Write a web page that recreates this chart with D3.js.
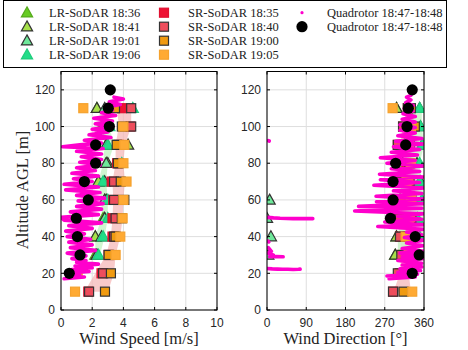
<!DOCTYPE html>
<html><head><meta charset="utf-8">
<script src="https://cdn.jsdelivr.net/npm/d3@7"></script>
<style>body{margin:0;background:#fff}svg{display:block}</style>
</head><body>
<svg id="c" width="468" height="350"></svg>
<script>
// ---------- DATA ----------
const srHeights = [10,20,30,40,50,60,70,80,90,100,110];
const lrHeights = [30,40,50,60,70,80,90,100,110];
const quadMeanHeights = [20,30,40,50,60,70,80,90,100,110,120];

const srLabels = ["SR-SoDAR 18:35","SR-SoDAR 18:40","SR-SoDAR 19:00","SR-SoDAR 19:05"];
const lrLabels = ["LR-SoDAR 18:36","LR-SoDAR 18:41","LR-SoDAR 19:01","LR-SoDAR 19:06"];
const quadLabels = ["Quadrotor 18:47-18:48","Quadrotor 18:47-18:48"];

// wind speed [m/s]
const sr1835Speed = [1.75,2.6,3.05,3.3,3.3,3.35,3.25,3.6,3.7,4.45,3.9];
const sr1840Speed = [1.8,2.7,3.1,3.4,3.5,3.4,3.4,3.7,3.6,4.5,4.5];
const sr1900Speed = [2.82,3.2,3.05,3.5,3.9,4.06,3.83,3.65,3.57,3.9,3.46];
const sr1905Speed = [0.9,1.07,3.5,3.8,3.95,4.0,4.2,4.0,4.06,4.0,1.43];
const lr1836Speed = [2.2,2.2,2.7,2.8,2.4,2.9,2.9,2.6,2.3];
const lr1841Speed = [2.3,2.2,2.8,2.9,2.4,3.0,4.3,2.7,2.3];
const lr1901Speed = [2.3,2.6,2.8,2.8,2.8,2.9,2.9,2.9,2.8];
const lr1906Speed = [2.4,2.7,3.0,3.0,2.7,3.9,3.0,3.1,4.6];
const quadMeanSpeed = [0.53,1.22,1.05,0.98,1.75,1.5,2.22,2.22,3.1,3.03,3.16];
const srBandSpeedLo = [1.5,2.2,2.9,3.2,3.3,3.35,3.3,3.5,3.5,3.7,3.6];
const srBandSpeedHi = [3.0,3.4,3.5,3.8,3.95,4.0,4.1,4.0,4.1,4.5,4.5];
const lrBandSpeedLo = [2.2,2.2,2.6,2.6,2.4,2.7,2.8,2.6,2.4];
const lrBandSpeedHi = [2.5,2.8,3.0,3.0,2.9,3.0,3.4,3.1,3.0];
// quadrotor raw samples [altitude, speed]
const quadSpeed = [[17,0.2],[18,1.5],[18.5,0.4],[19.5,1.2],[20,0.3],[21,1.8],[22,0.7],[23,2.0],[24,0.9],[25,2.4],[26,1.0],[27,1.6],[28,0.7],[29.5,1.6],[31,0.4],[32.5,2.2],[34,0.6],[35.5,2.0],[37,0.5],[38.5,1.9],[40,0.4],[41.5,1.5],[43,0.3],[44.5,2.0],[46,0.5],[47.5,2.6],[49,0.2],[50.5,0.0],[52,2.4],[53.5,0.6],[55,2.6],[56.5,1.0],[58,2.7],[59.5,1.1],[61,2.8],[62.5,1.0],[64,2.5],[65.5,0.3],[67,2.4],[68.5,0.2],[70,2.0],[71.5,0.8],[73,2.4],[74.5,0.7],[76,2.2],[77.5,1.0],[79,2.5],[80.5,1.2],[82,2.6],[83.5,1.3],[85,2.6],[86.5,1.0],[88,2.7],[89,0.1],[90,1.2],[91,2.6],[92.5,1.5],[94,3.2],[95.5,1.8],[97,3.0],[98.5,2.0],[100,3.2],[101.5,2.2],[103,3.3],[104.5,2.1],[106,3.5],[107.5,2.6],[109,3.3],[110.5,2.9],[112,3.8],[113.5,3.1],[115,4.0],[116,3.4]];

// wind direction [deg]
const sr1835Dir = [289,305,310,305,300,311,305,320,300,312,323];
const sr1840Dir = [289,300,308,305,304,311,304,327,300,312,323];
const sr1900Dir = [313,315,323,323,331,331,327,327,327,339,330];
const sr1905Dir = [333,325,325,318,325,330,320,330,325,330,288];
const lr1836Dir = [294,297,300,305,310,311,315,320,297];
const lr1841Dir = [294,297,305,305,305,311,320,330,297];
const lr1901Dir = [3,9,0,6,352,344,356,352,350];
const lr1906Dir = [340,350,345,355,350,350,356,352,350];
const quadMeanDir = [333,349,340,283,289,289,295,318,321,324,333];
const srBandDirLo = [290,305,308,305,305,311,305,320,305,312,320];
const srBandDirHi = [330,325,330,325,330,331,330,330,330,339,335];
const lrBandDirLo = [300,300,305,310,305,320,320,330,330];
const lrBandDirHi = [345,360,360,360,355,350,360,355,355];
const quadDir = [[17,280],[18,340],[18.5,275],[19.5,345],[20.5,300],[21.5,352],[22.5,305],[23.5,355],[24.5,310],[25.5,355],[27,300],[28,358],[29,310],[30,360],[31,305],[32,360],[33.5,310],[35,358],[36.5,320],[38,360],[39.5,315],[41,355],[42.5,320],[44,358],[45.5,254],[46.5,360],[48,270],[49.5,355],[51,300],[52.5,360],[54,201],[55.5,355],[56.5,210],[58,360],[59,251],[60.5,360],[62,250],[63.5,355],[65,290],[66.5,360],[68,245],[69.5,350],[71,260],[72.5,358],[74,258],[75.5,350],[77,285],[78.5,358],[80,275],[81.5,340],[83,260],[84.5,345],[86,285],[87.5,350],[89,290],[90.5,358],[92,295],[93.5,355],[95,300],[96.5,340],[98,305],[99.5,340],[101,305],[102.5,340],[104,310],[105.5,340],[107,312],[108.5,335],[110,315],[111.5,335],[113,318],[114.5,330],[116,320],[117,330]];
const quadDirWrap1 = [[22.6,0],[22.4,12],[22.3,24],[22.2,36],[22.2,48],[22.1,60],[22.2,72],[22.3,76]];
const quadDirWrap2 = [[34,3],[32,10],[31,2],[30,14],[29,6],[29.2,20],[29.0,37]];
const quadDirWrap3 = [[37.6,2],[37.1,4]];
const quadDirWrap4 = [[50.5,0],[50.2,15],[50,30],[49.9,45],[49.8,60],[49.8,75],[49.8,90],[49.8,105]];
const quadDirWrap5 = [[92.3,3],[92.1,5]];

const speedTicks = [0,2,4,6,8,10];
const dirTicks = [0,90,180,270,360];
const altTicks = [0,20,40,60,80,100,120];

// ---------- STYLE ----------
const lrStyles = [
  {fill:"#66cc22", stroke:"#55aa1c"},
  {fill:"#a6e04a", stroke:"#333"},
  {fill:"#6ee89a", stroke:"#333"},
  {fill:"#22dd88", stroke:"#1fcc7c"}];
const srStyles = [
  {fill:"#ee1133", stroke:"#e01030"},
  {fill:"#ee4d5c", stroke:"#333"},
  {fill:"#f09a10", stroke:"#333"},
  {fill:"#ffaa33", stroke:"#f5a22e"}];
const magenta = "#ff00cc";
const serif = "'Liberation Serif','Times New Roman',serif";
const sans = "'Liberation Sans',Arial,sans-serif";

const svg = d3.select("#c");
const yTop = 71.5, yBot = 310;
const y = d3.scaleLinear().domain([0,130]).range([yBot, yTop]);
const triPath = "M0,-5.8L5.6,4.2L-5.6,4.2Z";

function panel(id, x0, x1, xDomain, xTicks, d) {
  const x = d3.scaleLinear().domain(xDomain).range([x0, x1]);
  const g = svg.append("g");
  const clipId = "clip" + id;
  svg.append("clipPath").attr("id", clipId).append("rect")
    .attr("x", x0).attr("y", yTop).attr("width", x1 - x0).attr("height", yBot - yTop);
  // grid
  g.selectAll(".gx").data(xTicks).join("line")
    .attr("x1", t => x(t)).attr("x2", t => x(t)).attr("y1", yTop).attr("y2", yBot)
    .attr("stroke", "#dedede").attr("stroke-width", 1);
  g.selectAll(".gy").data(altTicks).join("line").attr("class","gy")
    .attr("x1", x0).attr("x2", x1).attr("y1", t => y(t)).attr("y2", t => y(t))
    .attr("stroke", "#dedede").attr("stroke-width", 1);
  const pg = g.append("g").attr("clip-path", `url(#${clipId})`);
  // bands
  const area = d3.area().curve(d3.curveLinear)
    .y(p => y(p.h)).x0(p => x(p.lo)).x1(p => x(p.hi));
  pg.append("path").datum(srHeights.map((h,i)=>({h, lo:d.srLo[i], hi:d.srHi[i]})))
    .attr("d", area).attr("fill", "#f6b8b8").attr("opacity", 0.75);
  pg.append("path").datum(lrHeights.map((h,i)=>({h, lo:d.lrLo[i], hi:d.lrHi[i]})))
    .attr("d", area).attr("fill", "#c4f2c4").attr("opacity", 0.8);
  // LR triangles
  d.lr.forEach((vals, k) => {
    pg.selectAll(null).data(vals.map((v,i)=>[lrHeights[i], v])).join("path")
      .attr("d", triPath)
      .attr("transform", p => `translate(${x(p[1])},${y(p[0])})`)
      .attr("fill", lrStyles[k].fill).attr("stroke", lrStyles[k].stroke).attr("stroke-width", 1.2);
  });
  // SR squares
  d.sr.forEach((vals, k) => {
    pg.selectAll(null).data(vals.map((v,i)=>[srHeights[i], v])).join("rect")
      .attr("x", p => x(p[1]) - 4.5).attr("y", p => y(p[0]) - 4.5)
      .attr("width", 9).attr("height", 9)
      .attr("fill", srStyles[k].fill).attr("stroke", srStyles[k].stroke).attr("stroke-width", 1.2);
  });
  // quadrotor samples
  const line = d3.line().x(p => x(p[1])).y(p => y(p[0]));
  d.quad.forEach(seg => {
    pg.append("path").datum(seg).attr("d", line).attr("fill", "none")
      .attr("stroke", magenta).attr("stroke-width", 3.6)
      .attr("stroke-linejoin", "round").attr("stroke-linecap", "round");
  });
  // quadrotor means
  pg.selectAll(null).data(d.mean.map((v,i)=>[quadMeanHeights[i], v])).join("circle")
    .attr("cx", p => x(p[1])).attr("cy", p => y(p[0])).attr("r", 5.6).attr("fill", "#000");
  // frame
  g.append("rect").attr("x", x0).attr("y", yTop).attr("width", x1 - x0).attr("height", yBot - yTop)
    .attr("fill", "none").attr("stroke", "#000").attr("stroke-width", 1);
  // ticks (inward, all sides)
  xTicks.forEach(t => {
    g.append("line").attr("x1", x(t)).attr("x2", x(t)).attr("y1", yBot).attr("y2", yBot - 3).attr("stroke", "#000");
    g.append("line").attr("x1", x(t)).attr("x2", x(t)).attr("y1", yTop).attr("y2", yTop + 3).attr("stroke", "#000");
  });
  altTicks.forEach(t => {
    g.append("line").attr("x1", x0).attr("x2", x0 + 3).attr("y1", y(t)).attr("y2", y(t)).attr("stroke", "#000");
    g.append("line").attr("x1", x1).attr("x2", x1 - 3).attr("y1", y(t)).attr("y2", y(t)).attr("stroke", "#000");
  });
  // tick labels
  g.selectAll(null).data(xTicks).join("text")
    .attr("x", t => x(t)).attr("y", 327).attr("text-anchor", "middle")
    .attr("font-family", sans).attr("font-size", 12).attr("fill", "#262626").text(t => t);
  g.selectAll(null).data(altTicks).join("text")
    .attr("x", x0 - 6).attr("y", t => y(t) + 4.2).attr("text-anchor", "end")
    .attr("font-family", sans).attr("font-size", 12).attr("fill", "#262626").text(t => t);
  g.append("text").attr("x", (x0 + x1) / 2).attr("y", 344).attr("text-anchor", "middle")
    .attr("font-family", serif).attr("font-size", 16.5).attr("fill", "#222").text(d.xlabel);
}

panel("L", 61, 217, [0,10], speedTicks, {
  srLo: srBandSpeedLo, srHi: srBandSpeedHi, lrLo: lrBandSpeedLo, lrHi: lrBandSpeedHi,
  lr: [lr1836Speed, lr1841Speed, lr1901Speed, lr1906Speed],
  sr: [sr1835Speed, sr1840Speed, sr1900Speed, sr1905Speed],
  quad: [quadSpeed], mean: quadMeanSpeed, xlabel: "Wind Speed [m/s]"});
panel("R", 267, 424, [0,360], dirTicks, {
  srLo: srBandDirLo, srHi: srBandDirHi, lrLo: lrBandDirLo, lrHi: lrBandDirHi,
  lr: [lr1836Dir, lr1841Dir, lr1901Dir, lr1906Dir],
  sr: [sr1835Dir, sr1840Dir, sr1900Dir, sr1905Dir],
  quad: [quadDir, quadDirWrap1, quadDirWrap2, quadDirWrap3, quadDirWrap4, quadDirWrap5],
  mean: quadMeanDir, xlabel: "Wind Direction [°]"});

svg.append("text").attr("transform", "translate(28,190) rotate(-90)").attr("text-anchor", "middle")
  .attr("font-family", serif).attr("font-size", 16.5).attr("fill", "#222").text("Altitude AGL [m]");

// ---------- LEGEND ----------
const lg = svg.append("g");
lg.append("rect").attr("x", 3.5).attr("y", 0.5).attr("width", 443).attr("height", 67)
  .attr("fill", "#fff").attr("stroke", "#000").attr("stroke-width", 1);
const rowY = [12.7, 26.7, 40.7, 54.7];
lrLabels.forEach((t, i) => {
  lg.append("path").attr("d", triPath).attr("transform", `translate(27,${rowY[i]})`)
    .attr("fill", lrStyles[i].fill).attr("stroke", lrStyles[i].stroke).attr("stroke-width", 1.2);
  lg.append("text").attr("x", 49).attr("y", rowY[i] + 4.3).attr("font-family", serif)
    .attr("font-size", 12.5).attr("fill", "#222").text(t);
});
srLabels.forEach((t, i) => {
  lg.append("rect").attr("x", 164 - 4.5).attr("y", rowY[i] - 4.5).attr("width", 9).attr("height", 9)
    .attr("fill", srStyles[i].fill).attr("stroke", srStyles[i].stroke).attr("stroke-width", 1.2);
  lg.append("text").attr("x", 188).attr("y", rowY[i] + 4.3).attr("font-family", serif)
    .attr("font-size", 12.5).attr("fill", "#222").text(t);
});
lg.append("circle").attr("cx", 302).attr("cy", rowY[0]).attr("r", 1.6).attr("fill", magenta);
lg.append("circle").attr("cx", 302).attr("cy", rowY[1]).attr("r", 5.6).attr("fill", "#000");
quadLabels.forEach((t, i) => {
  lg.append("text").attr("x", 327).attr("y", rowY[i] + 4.3).attr("font-family", serif)
    .attr("font-size", 12.5).attr("fill", "#222").text(t);
});
</script>
</body></html>
